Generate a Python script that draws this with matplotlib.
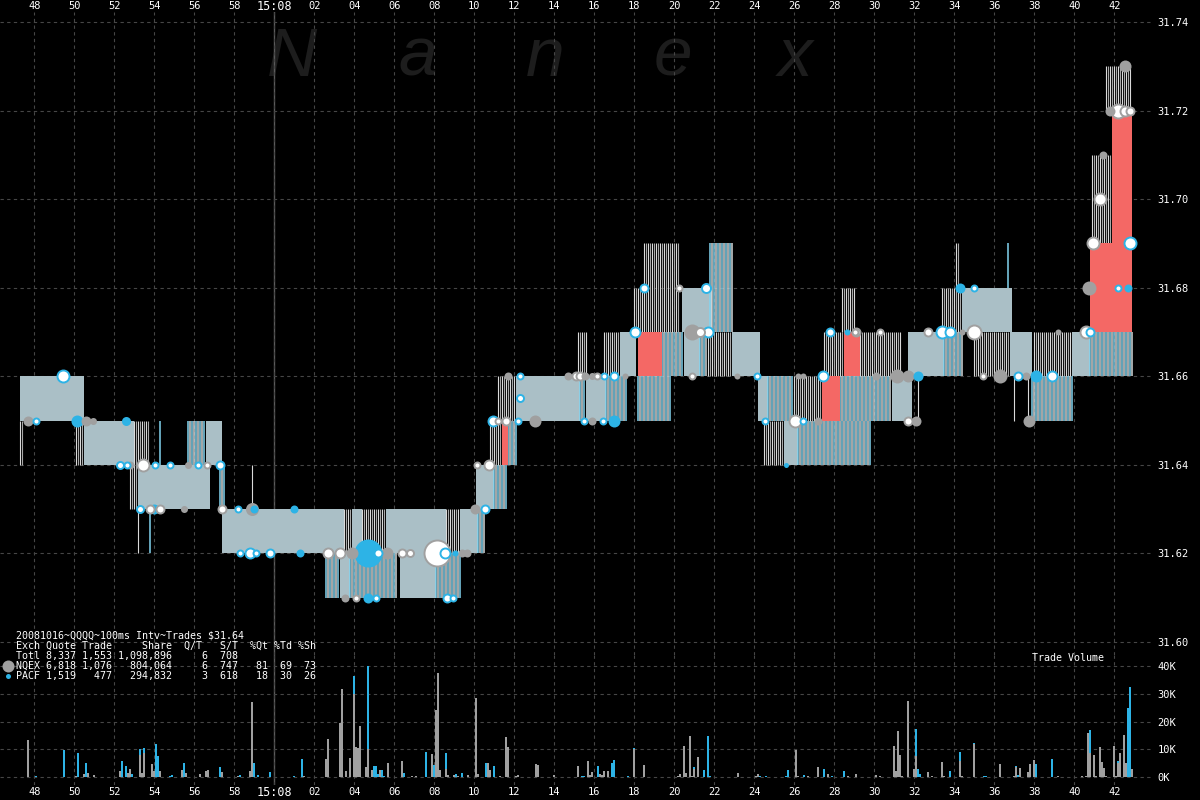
import numpy as np
import matplotlib
matplotlib.use("Agg")
import matplotlib.pyplot as plt
from matplotlib.transforms import blended_transform_factory

# ---------------- data ----------------
# time axis: seconds relative to 15:08:00
tick_secs = list(range(-12, 43, 2))
tick_labels = [("15:08" if s == 0 else "%02d" % (s % 60)) for s in tick_secs]
price_ticks = [31.60, 31.62, 31.64, 31.66, 31.68, 31.70, 31.72, 31.74]
vol_ticks = [0, 10000, 20000, 30000, 40000]

# quote segments: start, end, low, high, kind (f=solid spread, g=grey lines, b=blue lines, r=crossed)
q_t0 = [-12.7, -12.7, -9.9, -9.5, -7.0, -5.7, -7.2, -6.8, -6.8, -6.2, -4.3, -3.4, -2.7, -2.6, -1.1,
        3.5, 3.9, 4.4, 5.6, 8.6, 9.3, 10.2, 2.6, 3.3, 3.8, 4.6, 6.3, 8.1, 10.1, 11.0, 10.8, 11.4,
        11.7, 11.2, 12.1, 15.3, 15.6, 16.6, 15.2, 16.5, 17.3, 18.2, 18.2, 19.4, 20.5, 21.3, 21.7,
        22.9, 18.0, 18.5, 20.4, 21.8, 24.2, 24.7, 24.5, 25.5, 26.2, 26.0, 27.4, 28.3, 30.9, 32.2,
        27.5, 28.5, 29.3, 31.7, 33.5, 35.0, 36.8, 38.0, 39.9, 40.8, 28.4, 33.4, 34.1, 34.4, 36.7,
        37.0, 37.7, 37.9, 40.8, 41.9, 40.9, 41.6]
q_t1 = [-9.5, -12.5, -9.5, -7.0, -6.2, -5.65, -6.8, -3.2, -6.7, -6.15, -3.4, -2.6, -2.4, 3.5, -1.05,
        3.9, 4.4, 5.6, 8.6, 9.3, 10.2, 10.6, 3.3, 3.8, 4.6, 6.2, 8.1, 9.4, 11.0, 11.7, 11.4, 11.7,
        12.2, 12.1, 15.3, 15.6, 16.6, 17.7, 15.7, 17.3, 18.1, 19.4, 19.9, 20.5, 21.3, 21.7, 22.9,
        24.3, 18.5, 20.3, 21.9, 23.0, 24.7, 26.0, 25.5, 26.2, 29.9, 27.4, 28.3, 30.9, 31.9, 32.25,
        28.5, 29.3, 31.4, 33.5, 34.5, 36.8, 37.9, 39.9, 40.8, 43.0, 29.1, 34.4, 34.3, 36.9, 36.75,
        37.05, 37.75, 40.0, 42.9, 42.9, 41.9, 42.9]
q_lo = [31.65, 31.64, 31.64, 31.64, 31.64, 31.64, 31.63, 31.63, 31.62, 31.62, 31.64, 31.64, 31.63, 31.62, 31.63,
        31.62, 31.62, 31.62, 31.62, 31.62, 31.62, 31.62, 31.61, 31.61, 31.61, 31.61, 31.61, 31.61, 31.63, 31.63, 31.64, 31.64,
        31.64, 31.65, 31.65, 31.65, 31.65, 31.65, 31.66, 31.66, 31.66, 31.66, 31.65, 31.66, 31.66, 31.66, 31.66,
        31.66, 31.67, 31.67, 31.67, 31.67, 31.65, 31.65, 31.64, 31.64, 31.64, 31.65, 31.65, 31.65, 31.65, 31.65,
        31.66, 31.66, 31.66, 31.66, 31.66, 31.66, 31.66, 31.66, 31.66, 31.66, 31.67, 31.67, 31.68, 31.67, 31.68,
        31.65, 31.65, 31.65, 31.67, 31.69, 31.69, 31.72]
q_hi = [31.66, 31.65, 31.65, 31.65, 31.65, 31.65, 31.64, 31.64, 31.63, 31.63, 31.65, 31.65, 31.64, 31.63, 31.64,
        31.63, 31.63, 31.63, 31.63, 31.63, 31.63, 31.63, 31.62, 31.62, 31.62, 31.62, 31.62, 31.62, 31.64, 31.64, 31.65, 31.65,
        31.65, 31.66, 31.66, 31.66, 31.66, 31.66, 31.67, 31.67, 31.67, 31.67, 31.66, 31.67, 31.67, 31.67, 31.67,
        31.67, 31.68, 31.69, 31.68, 31.69, 31.66, 31.66, 31.65, 31.65, 31.65, 31.66, 31.66, 31.66, 31.66, 31.66,
        31.67, 31.67, 31.67, 31.67, 31.67, 31.67, 31.67, 31.67, 31.67, 31.67, 31.68, 31.68, 31.69, 31.68, 31.69,
        31.66, 31.66, 31.66, 31.69, 31.72, 31.71, 31.73]
q_kind = ['f', 'g', 'g', 'f', 'g', 'b', 'g', 'f', 'g', 'b', 'b', 'f', 'b', 'f', 'g',
          'g', 'f', 'g', 'f', 'g', 'f', 'b', 'b', 'f', 'b', 'b', 'f', 'b', 'f', 'b', 'g', 'r',
          'b', 'g', 'f', 'b', 'f', 'b', 'g', 'g', 'f', 'r', 'b', 'b', 'f', 'b', 'g',
          'f', 'g', 'g', 'f', 'b', 'f', 'b', 'g', 'f', 'b', 'g', 'r', 'b', 'f', 'g',
          'g', 'r', 'g', 'f', 'b', 'g', 'f', 'g', 'f', 'b', 'g', 'g', 'g', 'f', 'b',
          'g', 'g', 'b', 'r', 'r', 'g', 'g']

# trades: time, price, style (g=NQEX, b=PACF, wg/wb=white centre), size (px)
tr_t = [-10.57, -12.32, -11.92, -9.87, -9.42, -9.07, -7.42, -7.72, -7.37, -7.22, -6.57, -5.97, -5.22,
        -4.32, -3.82, -3.37, -2.72, -6.72, -6.22, -6.02, -5.72, -4.52, -2.62, -1.82, -1.12, -1.02, 0.98,
        -1.72, -1.22, -0.92, -0.22, 1.28, 2.68, 3.28, 3.88, 4.68, 5.18, 5.63, 6.38, 6.78, 8.13, 8.53,
        9.03, 9.38, 9.63, 3.53, 4.08, 4.68, 5.08, 8.63, 8.93, 10.03, 10.53, 10.13, 10.73, 10.93, 11.18,
        11.58, 12.18, 13.03, 11.68, 12.28, 12.28, 14.68, 15.08, 15.28, 15.53, 15.88, 16.13, 16.48, 16.98,
        15.48, 15.88, 16.43, 16.98, 18.03, 18.48, 20.23, 21.58, 20.88, 21.28, 21.68, 17.53, 20.88, 23.13,
        24.13, 24.53, 26.03, 26.43, 27.18, 25.58, 26.18, 26.43, 27.43, 27.78, 28.63, 29.03, 29.08, 30.28,
        30.08, 31.13, 31.68, 32.18, 31.68, 32.08, 32.68, 33.38, 33.78, 34.38, 34.98, 34.28, 34.98, 35.43,
        36.28, 37.18, 37.58, 38.08, 38.88, 37.73, 39.18, 40.58, 40.78, 40.73, 42.18, 42.68, 40.93, 42.78,
        41.28, 41.43, 41.78, 42.18, 42.53, 42.78, 42.53]
tr_p = [31.66, 31.65, 31.65, 31.65, 31.65, 31.65, 31.65, 31.64, 31.64, 31.64, 31.64, 31.64, 31.64,
        31.64, 31.64, 31.64, 31.64, 31.63, 31.63, 31.63, 31.63, 31.63, 31.63, 31.63, 31.63, 31.63, 31.63,
        31.62, 31.62, 31.62, 31.62, 31.62, 31.62, 31.62, 31.62, 31.62, 31.62, 31.62, 31.62, 31.62, 31.62, 31.62,
        31.62, 31.62, 31.62, 31.61, 31.61, 31.61, 31.61, 31.61, 31.61, 31.63, 31.63, 31.64, 31.64, 31.65, 31.65,
        31.65, 31.65, 31.65, 31.66, 31.66, 31.655, 31.66, 31.66, 31.66, 31.66, 31.66, 31.66, 31.66, 31.66,
        31.65, 31.65, 31.65, 31.65, 31.67, 31.68, 31.68, 31.68, 31.67, 31.67, 31.67, 31.66, 31.66, 31.66,
        31.66, 31.65, 31.65, 31.65, 31.65, 31.64, 31.66, 31.66, 31.66, 31.67, 31.67, 31.67, 31.67, 31.67,
        31.66, 31.66, 31.66, 31.66, 31.65, 31.65, 31.67, 31.67, 31.67, 31.67, 31.67, 31.68, 31.68, 31.66,
        31.66, 31.66, 31.66, 31.66, 31.66, 31.65, 31.67, 31.67, 31.67, 31.68, 31.68, 31.68, 31.69, 31.69,
        31.70, 31.71, 31.72, 31.72, 31.72, 31.72, 31.73]
tr_s = ['wb', 'g', 'wb', 'b', 'g', 'g', 'b', 'wb', 'wb', 'g', 'wg', 'wb', 'wb',
        'g', 'wb', 'wg', 'wb', 'wb', 'wg', 'b', 'wg', 'g', 'wg', 'wb', 'g', 'b', 'b',
        'wb', 'wb', 'wb', 'wb', 'b', 'wg', 'wg', 'g', 'b', 'wb', 'g', 'wg', 'wg', 'wg', 'wb',
        'b', 'g', 'g', 'g', 'wg', 'b', 'wb', 'wb', 'wb', 'g', 'wb', 'wg', 'wg', 'wb', 'wg',
        'wg', 'wb', 'g', 'g', 'wb', 'wb', 'g', 'wg', 'wg', 'g', 'g', 'wg', 'wb', 'wb',
        'wb', 'g', 'wb', 'b', 'wb', 'wb', 'wg', 'wb', 'g', 'wg', 'wb', 'g', 'wg', 'g',
        'wb', 'wb', 'wg', 'wb', 'g', 'b', 'g', 'g', 'wb', 'wb', 'b', 'wg', 'wg', 'wg',
        'g', 'g', 'g', 'b', 'wg', 'g', 'wg', 'wb', 'wb', 'g', 'wg', 'b', 'wb', 'wg',
        'g', 'wb', 'g', 'b', 'wb', 'g', 'g', 'wg', 'wb', 'g', 'wb', 'b', 'wg', 'wb',
        'wg', 'g', 'g', 'wg', 'wg', 'wg', 'g']
tr_d = [12, 10, 6, 12, 10, 7, 9, 7, 6, 8, 12, 6, 6,
        7, 6, 6, 8, 7, 8, 10, 8, 7, 8, 6, 13, 8, 8,
        6, 10, 6, 8, 8, 10, 10, 12, 28, 8, 12, 8, 7, 26, 10,
        6, 8, 8, 8, 6, 10, 6, 8, 6, 10, 8, 6, 10, 10, 6,
        8, 6, 12, 8, 6, 7, 8, 8, 8, 8, 7, 6, 6, 8,
        6, 8, 6, 12, 10, 8, 6, 9, 16, 9, 10, 6, 6, 6,
        6, 6, 12, 6, 8, 5, 6, 6, 10, 8, 6, 6, 8, 6,
        8, 14, 12, 10, 8, 10, 8, 12, 10, 6, 14, 10, 6, 6,
        14, 8, 8, 12, 10, 12, 6, 12, 8, 14, 6, 8, 12, 12,
        12, 8, 10, 14, 10, 8, 12]

# trade volume per 100ms interval (shares): NQEX and PACF
vol_t = [-12.3, -11.9, -10.5, -9.9, -9.8, -9.5, -9.4, -9.3, -9.0, -7.7, -7.6, -7.4, -7.3, -7.2, -7.1,
         -6.7, -6.6, -6.5, -6.1, -6.0, -5.9, -5.8, -5.7, -5.2, -5.1, -4.6, -4.5, -4.4, -3.7, -3.4, -3.3,
         -2.7, -2.6, -1.8, -1.7, -1.2, -1.1, -1.0, -0.8, -0.2, 1.0, 1.4, 1.5, 2.6, 2.7, 3.3, 3.4, 3.6,
         3.8, 4.0, 4.1, 4.2, 4.3, 4.6, 4.7, 4.9, 5.0, 5.1, 5.2, 5.3, 5.4, 5.5, 5.7, 6.4, 6.5, 6.9, 7.1,
         7.6, 7.9, 8.0, 8.1, 8.2, 8.3, 8.6, 8.7, 9.0, 9.1, 9.2, 9.4, 9.7, 10.1, 10.2, 10.6, 10.7, 10.8,
         11.0, 11.3, 11.6, 11.7, 12.1, 12.2, 13.1, 13.2, 14.0, 15.2, 15.4, 15.5, 15.7, 15.8, 15.9, 16.2,
         16.3, 16.4, 16.5, 16.7, 16.9, 17.0, 17.7, 18.0, 18.5, 20.2, 20.3, 20.5, 20.6, 20.8, 20.9, 21.0,
         21.2, 21.5, 21.7, 21.8, 23.2, 24.1, 24.2, 24.3, 24.6, 25.6, 25.7, 26.1, 26.2, 26.5, 26.7, 27.2,
         27.5, 27.7, 27.9, 28.5, 28.7, 29.1, 30.1, 30.3, 31.0, 31.1, 31.2, 31.3, 31.4, 31.7, 32.0, 32.1,
         32.2, 32.3, 32.7, 32.9, 33.4, 33.5, 33.8, 34.3, 34.4, 35.0, 35.5, 35.6, 36.3, 37.0, 37.1, 37.2,
         37.3, 37.7, 37.8, 38.0, 38.1, 38.9, 39.2, 40.4, 40.6, 40.7, 40.8, 41.0, 41.1, 41.3, 41.4, 41.5,
         41.6, 42.0, 42.1, 42.2, 42.3, 42.5, 42.6, 42.7, 42.8, 42.9]
vol_nqex = [13400, 0, 0, 300, 0, 1000, 0, 1500, 600, 2000, 0, 0, 1600, 3000, 0,
            8000, 1300, 8500, 4600, 2000, 0, 0, 2000, 0, 0, 2500, 0, 1300, 1000, 2000, 2500,
            0, 1800, 400, 0, 2200, 26900, 0, 0, 0, 0, 0, 400, 6500, 13700, 19600, 31800, 2000,
            7000, 30000, 11000, 10400, 18400, 3700, 10000, 2500, 0, 0, 0, 2500, 0, 0, 5000, 5800, 0, 400, 400,
            0, 8200, 0, 24200, 37700, 2500, 3000, 700, 700, 0, 400, 0, 700, 28400, 1000, 0, 5000, 2500,
            0, 400, 14600, 10700, 400, 700, 4700, 4300, 700, 4000, 0, 0, 5800, 700, 1800, 0,
            1000, 700, 2200, 2200, 0, 0, 0, 10000, 4200, 300, 1000, 11200, 1300, 14800, 400, 3000,
            7100, 0, 0, 0, 1300, 400, 1000, 0, 0, 0, 0, 9800, 400, 0, 200, 3700,
            0, 1000, 0, 0, 200, 1000, 700, 200, 11200, 2000, 16600, 8000, 200, 27500, 3000, 7700,
            0, 0, 1700, 200, 5400, 200, 0, 5600, 200, 12000, 0, 0, 4700, 200, 3700, 0,
            3400, 1800, 4700, 6100, 0, 0, 200, 200, 200, 15900, 8800, 7800, 400, 10700, 5400, 3400,
            300, 11200, 200, 5200, 8600, 15200, 5200, 0, 0, 2900]
vol_pacf = [0, 400, 9800, 0, 8600, 0, 5000, 0, 0, 0, 5800, 4000, 0, 0, 1000,
            2000, 0, 1900, 0, 0, 12000, 7600, 0, 400, 800, 0, 5000, 0, 0, 0, 0,
            3700, 0, 0, 700, 0, 0, 5000, 700, 1800, 400, 6500, 0, 0, 0, 0, 0, 0,
            0, 6500, 0, 0, 0, 0, 29900, 0, 4000, 4000, 1000, 0, 2500, 400, 0, 0, 1300, 0, 0,
            9200, 0, 4300, 0, 0, 0, 5600, 0, 0, 1000, 0, 1300, 0, 0, 0, 5000, 0, 0,
            4000, 0, 0, 0, 0, 0, 0, 0, 0, 0, 400, 400, 0, 0, 0, 4000,
            0, 0, 0, 0, 5000, 6100, 400, 400, 0, 0, 0, 0, 0, 0, 0, 500,
            0, 2500, 14800, 400, 0, 0, 0, 400, 400, 400, 2500, 0, 0, 700, 0, 0,
            2900, 0, 400, 2200, 0, 0, 0, 0, 0, 0, 0, 0, 0, 0, 0, 9600,
            2900, 1000, 0, 0, 0, 0, 2200, 3400, 0, 200, 400, 400, 0, 0, 300, 700,
            0, 0, 0, 0, 4700, 6500, 0, 0, 0, 0, 8200, 0, 0, 0, 0, 0,
            0, 0, 0, 600, 0, 0, 0, 25000, 32400, 0]

legend_lines = [
    "20081016~QQQQ~100ms Intv~Trades $31.64",
    "Exch Quote Trade     Share  Q/T   S/T  %Qt %Td %Sh",
    "Totl 8,337 1,553 1,098,896     6  708",
    "NQEX 6,818 1,076   804,064     6  747   81  69  73",
    "PACF 1,519   477   294,832     3  618   18  30  26",
]

# ---------------- styling ----------------
W, H = 1200, 800
BG = 'black'
GRID = '#464646'
GREY = '#a0a0a0'
BLUE = '#2db3e6'
MONO = 'DejaVu Sans Mono'

fig = plt.figure(figsize=(12, 8), dpi=100, facecolor=BG)


def box(l, t, r, b):
    return [l / W, 1 - b / H, (r - l) / W, (b - t) / H]


PPD = 620 / 0.14          # pixels per dollar
KPX = 27.7 / 10000        # pixels per share
XL = (-274.3 / 20, (1152 - 274.3) / 20)

bg = fig.add_axes(box(0, 0, W, H), zorder=0)
bg.set_xlim(0, W); bg.set_ylim(H, 0); bg.axis('off')
for ch, cx in zip("Nanex", [292, 418, 545, 673, 795]):
    bg.text(cx, 76, ch, fontsize=50, style='italic', family='Liberation Sans',
            color='#1d1d1d', ha='center', va='baseline')

ax = fig.add_axes(box(0, 12, 1152, 655), zorder=1)
axv = fig.add_axes(box(0, 655, 1152, 785), zorder=1)
for a in (ax, axv):
    a.set_facecolor('none')
    for s in a.spines.values():
        s.set_visible(False)
    a.set_xlim(*XL)
    a.set_xticks(tick_secs)
    a.grid(True, color=GRID, linestyle=(0, (3, 3)), linewidth=0.8, zorder=0)
    a.set_axisbelow(True)
    a.axvline(0, color='#5a5a5a', lw=1.0, zorder=0.5)
    a.yaxis.tick_right()
    a.tick_params(axis='y', length=0, pad=4, labelsize=7.5, labelcolor='white')

ax.set_ylim(31.60 - 13 / PPD, 31.74 + 10 / PPD)
ax.set_yticks(price_ticks)
ax.set_yticklabels(["%.2f" % p for p in price_ticks], family=MONO)
ax.tick_params(axis='x', length=0, labelbottom=False, labeltop=False)

axv.set_ylim(-8 / KPX, 122 / KPX)
axv.set_yticks(vol_ticks)
axv.set_yticklabels(["%dK" % (v // 1000) for v in vol_ticks], family=MONO)
axv.tick_params(axis='x', length=0, labelbottom=False)

# ---------------- text overlay ----------------
fg = fig.add_axes(box(0, 0, W, H), zorder=5)
fg.set_xlim(0, W); fg.set_ylim(H, 0); fg.axis('off')
xt = blended_transform_factory(ax.transData, fg.transData)
for s, lab in zip(tick_secs, tick_labels):
    fsz = 8.5 if s == 0 else 7.5
    for ypix in (6, 792):
        fg.text(s, ypix, lab, transform=xt, family=MONO, fontsize=fsz, color='white',
                ha='center', va='center')

# ---------------- quotes ----------------
for t0, t1, lo, hi, k in zip(q_t0, q_t1, q_lo, q_hi, q_kind):
    if k == 'r':
        ax.fill_between([t0, t1], lo, hi, color='#f46865', lw=0, zorder=3)
        continue
    if k == 'f':
        ax.fill_between([t0, t1], lo, hi, color='#aabfc6', lw=0, zorder=2)
        continue
    xs = np.arange(t0, t1 - 1e-6, 0.1)
    if len(xs) == 0:
        xs = np.array([t0])
    if k == 'g':
        cols = ['#dadada' if i % 2 == 0 else '#a8a8a8' for i in range(len(xs))]
        lw = 0.8
    else:
        cols = ['#82d4f0' if i % 2 == 0 else '#d4d9db' for i in range(len(xs))]
        lw = 1.1
    ax.vlines(xs, lo, hi, colors=cols, lw=lw, antialiased=True, zorder=2.2)

# ---------------- trades ----------------
tr_t = np.array(tr_t); tr_p = np.array(tr_p); tr_d = np.array(tr_d, dtype=float)
sz = (tr_d * 0.72) ** 2
order = np.argsort(-tr_d)
for i in order:
    st = tr_s[i]
    if st == 'g':
        fc, ec = GREY, GREY
    elif st == 'b':
        fc, ec = BLUE, BLUE
    elif st == 'wg':
        fc, ec = 'white', GREY
    else:
        fc, ec = 'white', BLUE
    ax.scatter([tr_t[i]], [tr_p[i]], s=sz[i], c=fc, edgecolors=ec,
               linewidths=1.4 if st.startswith('w') else 0, zorder=5)

# ---------------- volume ----------------
vol_t = np.array(vol_t); vn = np.array(vol_nqex); vp = np.array(vol_pacf)
axv.bar(vol_t, vn, width=0.09, color=GREY, lw=0, zorder=2)
axv.bar(vol_t, vp, width=0.09, bottom=vn, color=BLUE, lw=0, zorder=2)

# ---------------- legend ----------------
for i, line in enumerate(legend_lines):
    fg.text(16, 636 + 10 * i, line, family=MONO, fontsize=7.2, color='white',
            ha='left', va='center')
fg.scatter([7.5], [666], s=(12 * 0.72) ** 2, c=GREY, lw=0)
fg.scatter([7.5], [676], s=(5 * 0.72) ** 2, c=BLUE, lw=0)
fg.text(1032, 658, "Trade Volume", family=MONO, fontsize=7.2, color='white',
        ha='left', va='center')

fig.savefig("out.png", dpi=100, facecolor=BG)
